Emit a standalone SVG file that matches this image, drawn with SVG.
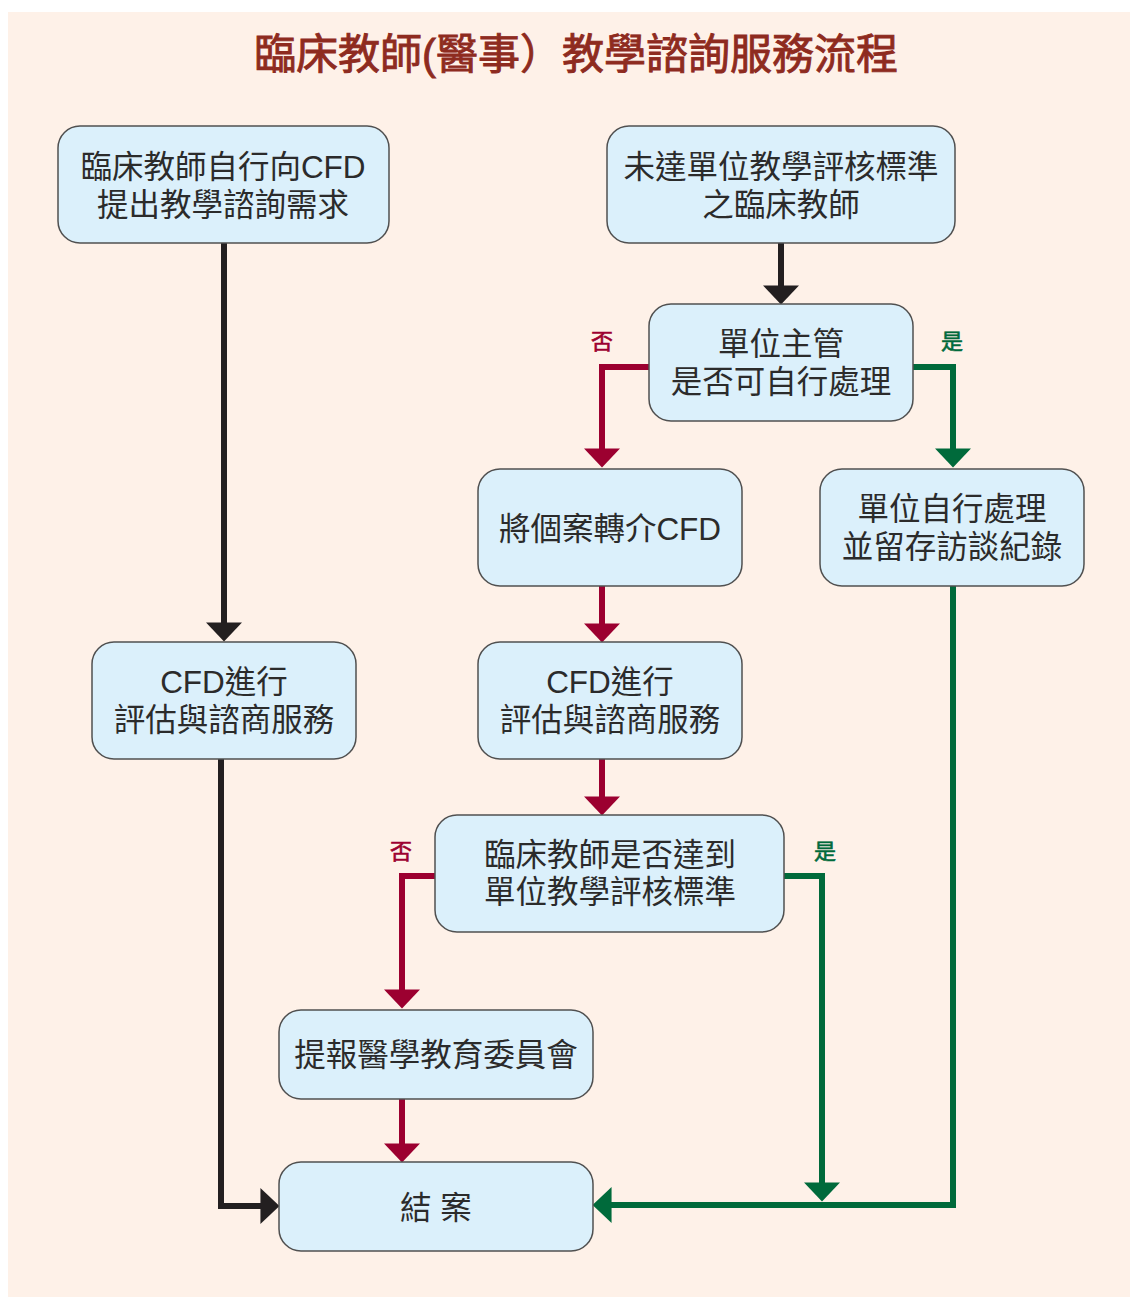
<svg xmlns="http://www.w3.org/2000/svg" width="1132" height="1298" viewBox="0 0 1132 1298">
<style>
.bg{fill:#fef1e8}
.node rect{fill:#dbf0fb;stroke:#505050;stroke-width:1.5}
.node text{font-family:"Liberation Sans","Noto Sans CJK TC","Noto Sans CJK SC",sans-serif;font-size:31.5px;fill:#2b2b2b;text-anchor:middle}
.title{font-family:"Liberation Sans","Noto Sans CJK TC","Noto Sans CJK SC",sans-serif;font-size:42px;fill:#8e2b1f;text-anchor:middle;stroke:#8e2b1f;stroke-width:0.9}
.lbl{font-family:"Noto Sans CJK TC","Noto Sans CJK SC",sans-serif;font-size:22px;text-anchor:middle;stroke-width:0.6}
.c{fill:none;stroke-width:6;stroke-linejoin:miter}
.k{stroke:#231f20}
.r{stroke:#9c0030}
.g{stroke:#006a3b}
</style>
<defs>
<marker id="ak" markerUnits="userSpaceOnUse" markerWidth="20" markerHeight="36" viewBox="0 0 18 34" refX="10" refY="17" orient="auto"><path d="M0,0 L18,17 L0,34 z" fill="#231f20"/></marker>
<marker id="ar" markerUnits="userSpaceOnUse" markerWidth="20" markerHeight="36" viewBox="0 0 18 34" refX="10" refY="17" orient="auto"><path d="M0,0 L18,17 L0,34 z" fill="#9c0030"/></marker>
<marker id="ag" markerUnits="userSpaceOnUse" markerWidth="20" markerHeight="36" viewBox="0 0 18 34" refX="10" refY="17" orient="auto"><path d="M0,0 L18,17 L0,34 z" fill="#006a3b"/></marker>
</defs>
<rect class="bg" x="8" y="12" width="1122" height="1285"/>
<text class="title" x="576" y="69">臨床教師(醫事）教學諮詢服務流程</text>

<g id="connectors">
<path class="c k" d="M224,243 V633" marker-end="url(#ak)"/>
<path class="c k" d="M781,243 V296" marker-end="url(#ak)"/>
<path class="c k" d="M221,759 V1206 H271" marker-end="url(#ak)"/>
<path class="c r" d="M649,367 H602 V459" marker-end="url(#ar)"/>
<path class="c r" d="M602,586 V634" marker-end="url(#ar)"/>
<path class="c r" d="M602,759 V807" marker-end="url(#ar)"/>
<path class="c r" d="M435,876 H402 V1000" marker-end="url(#ar)"/>
<path class="c r" d="M402,1099 V1154" marker-end="url(#ar)"/>
<path class="c g" d="M913,367 H953 V459" marker-end="url(#ag)"/>
<path class="c g" d="M784,876 H822 V1193" marker-end="url(#ag)"/>
<path class="c g" d="M953,586 V1205 H601" marker-end="url(#ag)"/>
<text class="lbl" x="602" y="349" fill="#9c0030" stroke="#9c0030">否</text>
<text class="lbl" x="952" y="349" fill="#006a3b" stroke="#006a3b">是</text>
<text class="lbl" x="401" y="859" fill="#9c0030" stroke="#9c0030">否</text>
<text class="lbl" x="825" y="859" fill="#006a3b" stroke="#006a3b">是</text>
</g>

<g id="n1" class="node"><rect x="58" y="126" width="331" height="117" rx="22"/><text x="223" y="178">臨床教師自行向CFD</text><text x="223" y="216">提出教學諮詢需求</text></g>
<g id="n2" class="node"><rect x="607" y="126" width="348" height="117" rx="22"/><text x="781" y="178">未達單位教學評核標準</text><text x="781" y="216">之臨床教師</text></g>
<g id="n3" class="node"><rect x="649" y="304" width="264" height="117" rx="22"/><text x="781" y="355">單位主管</text><text x="781" y="393">是否可自行處理</text></g>
<g id="n4" class="node"><rect x="478" y="469" width="264" height="117" rx="22"/><text x="610" y="540">將個案轉介CFD</text></g>
<g id="n5" class="node"><rect x="820" y="469" width="264" height="117" rx="22"/><text x="952" y="520">單位自行處理</text><text x="952" y="558">並留存訪談紀錄</text></g>
<g id="n6" class="node"><rect x="92" y="642" width="264" height="117" rx="22"/><text x="224" y="693">CFD進行</text><text x="224" y="731">評估與諮商服務</text></g>
<g id="n7" class="node"><rect x="478" y="642" width="264" height="117" rx="22"/><text x="610" y="693">CFD進行</text><text x="610" y="731">評估與諮商服務</text></g>
<g id="n8" class="node"><rect x="435" y="815" width="349" height="117" rx="22"/><text x="610" y="866">臨床教師是否達到</text><text x="610" y="903">單位教學評核標準</text></g>
<g id="n9" class="node"><rect x="279" y="1010" width="314" height="89" rx="22"/><text x="436" y="1066">提報醫學教育委員會</text></g>
<g id="n10" class="node"><rect x="279" y="1162" width="314" height="89" rx="22"/><text x="436" y="1219">結 案</text></g>
</svg>
